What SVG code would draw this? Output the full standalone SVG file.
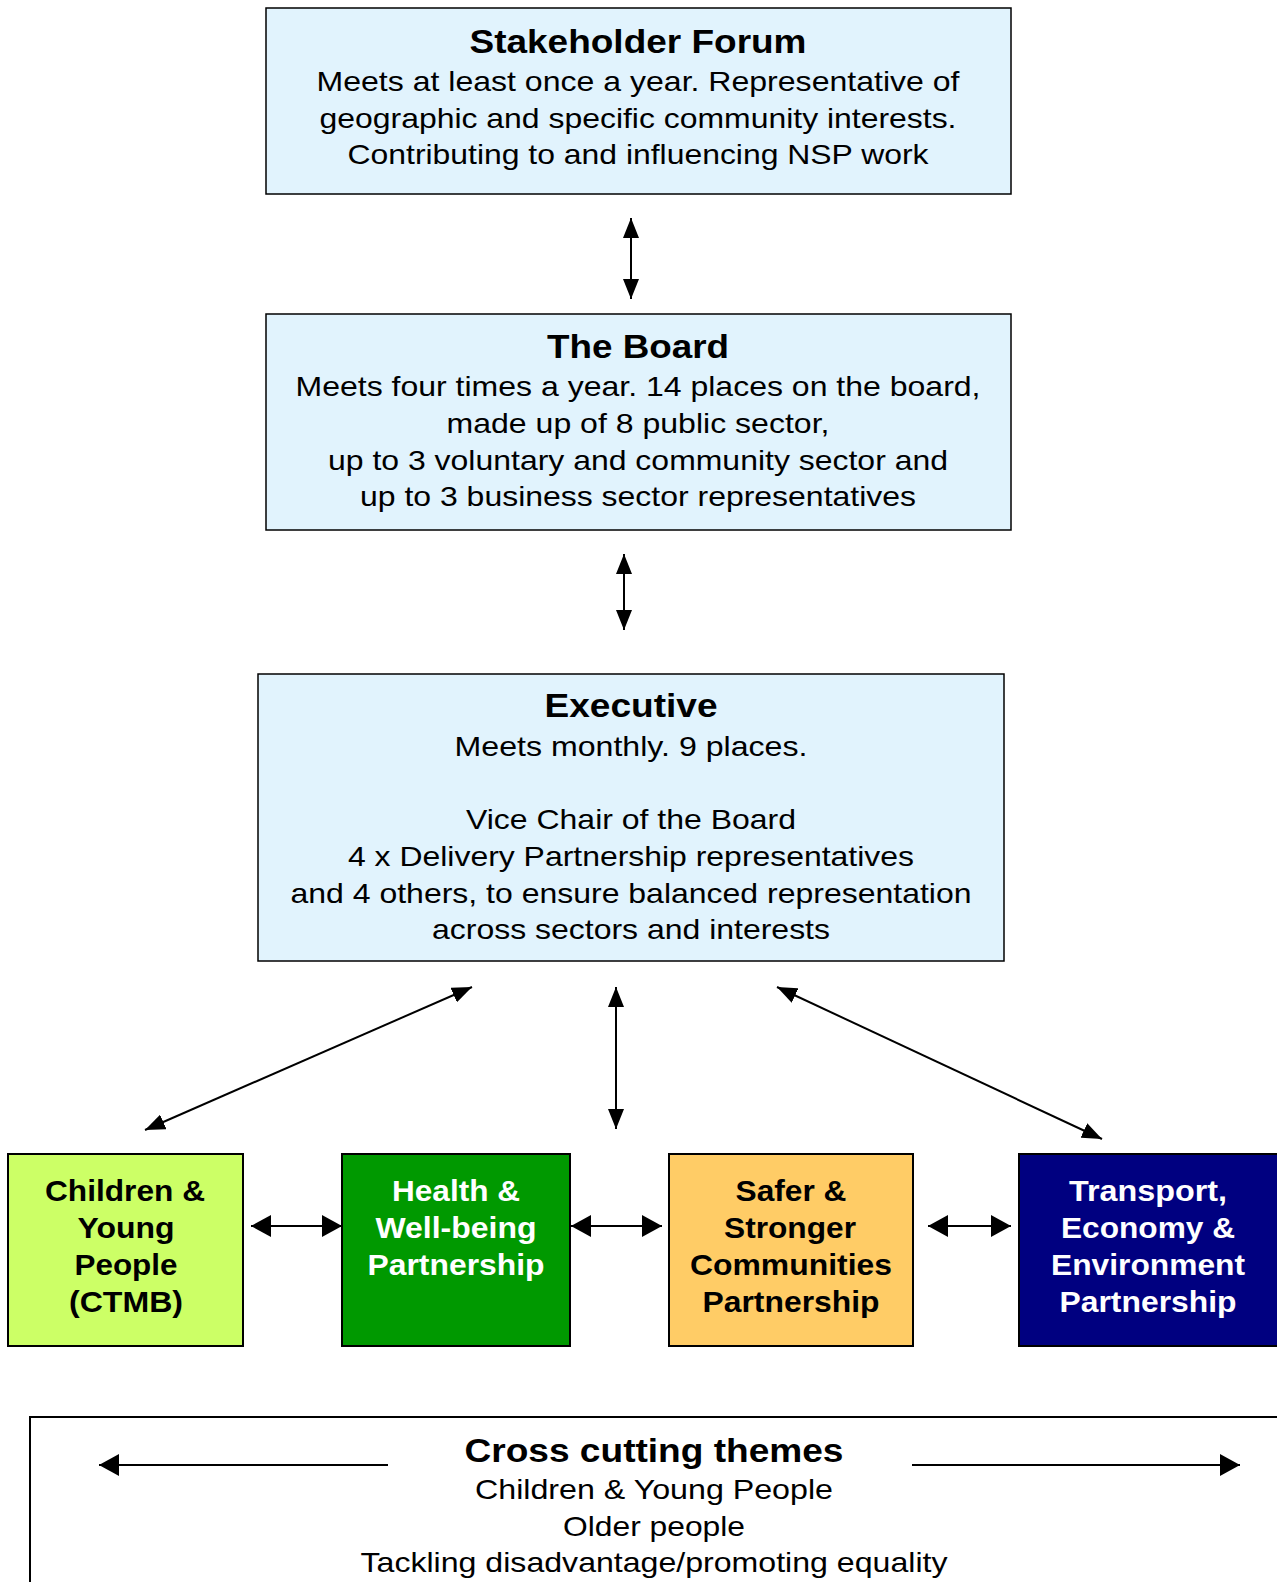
<svg xmlns="http://www.w3.org/2000/svg" width="1277" height="1582" viewBox="0 0 1277 1582">
<style>
.box{fill:#E1F3FD;stroke:#000;stroke-width:1.5}
.t{font-family:"Liberation Sans",Arial,sans-serif;font-weight:bold;font-size:33px;text-anchor:middle;fill:#000}
.b{font-family:"Liberation Sans",Arial,sans-serif;font-size:28.5px;text-anchor:middle;fill:#000}
.p{font-family:"Liberation Sans",Arial,sans-serif;font-weight:bold;font-size:30px;text-anchor:middle}
.c{stroke:#000;stroke-width:2;fill:none}
</style>
<defs>
<marker id="ah" viewBox="0 0 20 16" refX="20" refY="8" markerWidth="20" markerHeight="16" markerUnits="userSpaceOnUse" orient="auto-start-reverse">
<path d="M0,0 L20,8 L0,16 Z" fill="#000"/>
</marker>
<marker id="ah2" viewBox="0 0 20 22" refX="20" refY="11" markerWidth="20" markerHeight="22" markerUnits="userSpaceOnUse" orient="auto-start-reverse">
<path d="M0,0 L20,11 L0,22 Z" fill="#000"/>
</marker>
</defs>
<rect width="1277" height="1582" fill="#fff"/>
<g id="stakeholder">
<rect class="box" x="266" y="8" width="745" height="186"/>
<text class="t" x="638" y="53" textLength="337" lengthAdjust="spacingAndGlyphs">Stakeholder Forum</text>
<text class="b" x="638" y="91" textLength="643" lengthAdjust="spacingAndGlyphs">Meets at least once a year. Representative of</text>
<text class="b" x="638" y="128" textLength="637" lengthAdjust="spacingAndGlyphs">geographic and specific community interests.</text>
<text class="b" x="638" y="164" textLength="581" lengthAdjust="spacingAndGlyphs">Contributing to and influencing NSP work</text>
</g>
<g id="board">
<rect class="box" x="266" y="314" width="745" height="216"/>
<text class="t" x="638" y="358" textLength="182" lengthAdjust="spacingAndGlyphs">The Board</text>
<text class="b" x="638" y="396" textLength="685" lengthAdjust="spacingAndGlyphs">Meets four times a year. 14 places on the board,</text>
<text class="b" x="638" y="433" textLength="383" lengthAdjust="spacingAndGlyphs">made up of 8 public sector,</text>
<text class="b" x="638" y="470" textLength="620" lengthAdjust="spacingAndGlyphs">up to 3 voluntary and community sector and</text>
<text class="b" x="638" y="506" textLength="556" lengthAdjust="spacingAndGlyphs">up to 3 business sector representatives</text>
</g>
<g id="executive">
<rect class="box" x="258" y="674" width="746" height="287"/>
<text class="t" x="631" y="717" textLength="173" lengthAdjust="spacingAndGlyphs">Executive</text>
<text class="b" x="631" y="756" textLength="353" lengthAdjust="spacingAndGlyphs">Meets monthly. 9 places.</text>
<text class="b" x="631" y="829" textLength="330" lengthAdjust="spacingAndGlyphs">Vice Chair of the Board</text>
<text class="b" x="631" y="866" textLength="566" lengthAdjust="spacingAndGlyphs">4 x Delivery Partnership representatives</text>
<text class="b" x="631" y="903" textLength="681" lengthAdjust="spacingAndGlyphs">and 4 others, to ensure balanced representation</text>
<text class="b" x="631" y="939" textLength="398" lengthAdjust="spacingAndGlyphs">across sectors and interests</text>
</g>
<g id="cyp">
<rect x="8" y="1154" width="235" height="192" fill="#CCFF66" stroke="#000" stroke-width="2"/>
<text class="p" x="125" y="1201" fill="#000" textLength="160" lengthAdjust="spacingAndGlyphs">Children &amp;</text>
<text class="p" x="126" y="1238" fill="#000" textLength="97" lengthAdjust="spacingAndGlyphs">Young</text>
<text class="p" x="126" y="1275" fill="#000" textLength="103" lengthAdjust="spacingAndGlyphs">People</text>
<text class="p" x="126" y="1312" fill="#000" textLength="114" lengthAdjust="spacingAndGlyphs">(CTMB)</text>
</g>
<g id="health">
<rect x="342" y="1154" width="228" height="192" fill="#009900" stroke="#000" stroke-width="2"/>
<text class="p" x="456" y="1201" fill="#fff" textLength="128" lengthAdjust="spacingAndGlyphs">Health &amp;</text>
<text class="p" x="456" y="1238" fill="#fff" textLength="161" lengthAdjust="spacingAndGlyphs">Well-being</text>
<text class="p" x="456" y="1275" fill="#fff" textLength="177" lengthAdjust="spacingAndGlyphs">Partnership</text>
</g>
<g id="safer">
<rect x="669" y="1154" width="244" height="192" fill="#FFCC66" stroke="#000" stroke-width="2"/>
<text class="p" x="791" y="1201" fill="#000" textLength="111" lengthAdjust="spacingAndGlyphs">Safer &amp;</text>
<text class="p" x="790" y="1238" fill="#000" textLength="132" lengthAdjust="spacingAndGlyphs">Stronger</text>
<text class="p" x="791" y="1275" fill="#000" textLength="202" lengthAdjust="spacingAndGlyphs">Communities</text>
<text class="p" x="791" y="1312" fill="#000" textLength="177" lengthAdjust="spacingAndGlyphs">Partnership</text>
</g>
<g id="transport">
<rect x="1019" y="1154" width="262" height="192" fill="#000080" stroke="#000" stroke-width="2"/>
<text class="p" x="1148" y="1201" fill="#fff" textLength="158" lengthAdjust="spacingAndGlyphs">Transport,</text>
<text class="p" x="1148" y="1238" fill="#fff" textLength="174" lengthAdjust="spacingAndGlyphs">Economy &amp;</text>
<text class="p" x="1148" y="1275" fill="#fff" textLength="194" lengthAdjust="spacingAndGlyphs">Environment</text>
<text class="p" x="1148" y="1312" fill="#fff" textLength="177" lengthAdjust="spacingAndGlyphs">Partnership</text>
</g>
<g id="crosscutting">
<rect x="30" y="1417" width="1260" height="200" fill="#fff" stroke="#000" stroke-width="2"/>
<text class="t" x="654" y="1462" textLength="379" lengthAdjust="spacingAndGlyphs">Cross cutting themes</text>
<text class="b" x="654" y="1499" textLength="358" lengthAdjust="spacingAndGlyphs">Children &amp; Young People</text>
<text class="b" x="654" y="1536" textLength="182" lengthAdjust="spacingAndGlyphs">Older people</text>
<text class="b" x="654" y="1572" textLength="587" lengthAdjust="spacingAndGlyphs">Tackling disadvantage/promoting equality</text>
</g>
<g id="connectors">
<line class="c" x1="631" y1="218" x2="631" y2="299" marker-start="url(#ah)" marker-end="url(#ah)"/>
<line class="c" x1="624" y1="554" x2="624" y2="630" marker-start="url(#ah)" marker-end="url(#ah)"/>
<line class="c" x1="472" y1="987" x2="145" y2="1130" marker-start="url(#ah)" marker-end="url(#ah)"/>
<line class="c" x1="616" y1="987" x2="616" y2="1129" marker-start="url(#ah)" marker-end="url(#ah)"/>
<line class="c" x1="777" y1="987" x2="1102" y2="1139" marker-start="url(#ah)" marker-end="url(#ah)"/>
<line class="c" x1="251" y1="1226" x2="342" y2="1226" marker-start="url(#ah2)" marker-end="url(#ah2)"/>
<line class="c" x1="571" y1="1226" x2="662" y2="1226" marker-start="url(#ah2)" marker-end="url(#ah2)"/>
<line class="c" x1="928" y1="1226" x2="1011" y2="1226" marker-start="url(#ah2)" marker-end="url(#ah2)"/>
<line class="c" x1="388" y1="1465" x2="99" y2="1465" marker-end="url(#ah2)"/>
<line class="c" x1="912" y1="1465" x2="1240" y2="1465" marker-end="url(#ah2)"/>
</g>
</svg>
